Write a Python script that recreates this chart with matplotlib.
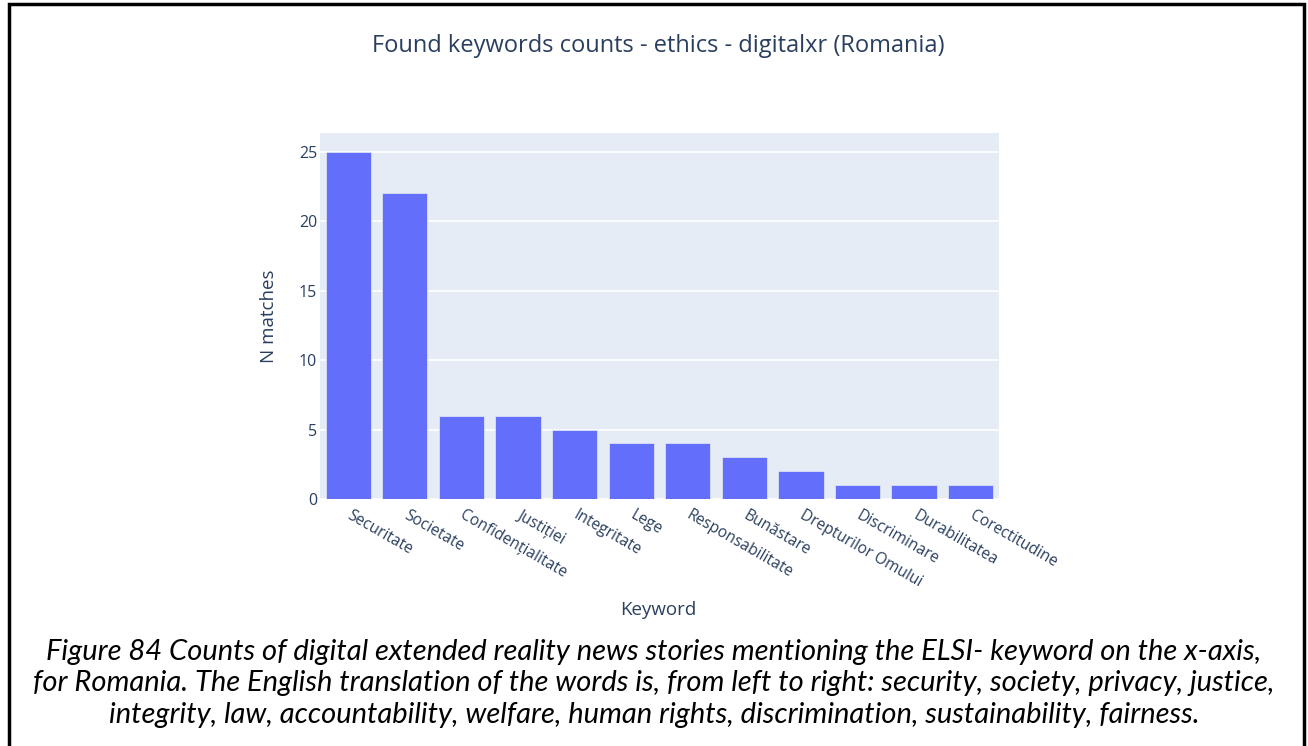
import matplotlib
matplotlib.use('Agg')
import matplotlib.pyplot as plt
from matplotlib.patches import Rectangle
import numpy as np

# data
keywords = ['Securitate', 'Societate', 'Confidențialitate', 'Justiției', 'Integritate', 'Lege',
            'Responsabilitate', 'Bunăstare', 'Drepturilor Omului', 'Discriminare',
            'Durabilitatea', 'Corectitudine']
counts = [25, 22, 6, 6, 5, 4, 4, 3, 2, 1, 1, 1]
y_ticks = [0, 5, 10, 15, 20, 25]

title = 'Found keywords counts - ethics - digitalxr (Romania)'
caption = ['Figure 84 Counts of digital extended reality news stories mentioning the ELSI- keyword on the x-axis,',
           'for Romania. The English translation of the words is, from left to right: security, society, privacy, justice,',
           'integrity, law, accountability, welfare, human rights, discrimination, sustainability, fairness.']

text_col = '#2a3f5f'
plt.rcParams['font.family'] = ['Open Sans', 'DejaVu Sans']

fig = plt.figure(figsize=(13.08, 7.46), dpi=100)
ax = fig.add_axes([0.2446, 0.3311, 0.5191, 0.4906])
ax.set_facecolor('#E5ECF6')

x = np.arange(len(keywords))
ax.bar(x, counts, width=0.8, color='#636EFA', edgecolor='#E5ECF6', linewidth=0.5, zorder=3)

ax.set_xlim(-0.5, len(keywords) - 0.5)
ax.set_ylim(0, 26.35)
ax.set_yticks(y_ticks)
ax.grid(axis='y', color='white', linewidth=1.2, zorder=0)
ax.set_axisbelow(True)
for s in ax.spines.values():
    s.set_visible(False)
ax.tick_params(length=0, labelsize=11.5, labelcolor=text_col, pad=2)

ax.set_xticks(x)
ax.set_xticklabels(keywords, rotation=-30, ha='left', va='center',
                   rotation_mode='anchor', fontsize=11.2, color=text_col)
ax.tick_params(axis='x', pad=11)

ax.set_ylabel('N matches', fontsize=13.5, color=text_col, labelpad=15)
fig.text(0.503, 1 - 610 / 746, 'Keyword', ha='center', va='center', fontsize=13.5, color=text_col)
fig.text(0.503, 1 - 46 / 746, title, ha='center', va='center', fontsize=17, color=text_col)

for i, line in enumerate(caption):
    fig.text(0.5, 1 - (652 + i * 31.5) / 746, line, ha='center', va='center',
             fontsize=21, style='italic', color='black', family=['Lato', 'DejaVu Sans'])

# frame around the figure, bottom edge falls outside the image
fig.patches.append(Rectangle((0.0065, -0.02), 0.9905, 1.014, transform=fig.transFigure,
                             fill=False, edgecolor='black', linewidth=2.5))

fig.savefig('out.png', dpi=100)
